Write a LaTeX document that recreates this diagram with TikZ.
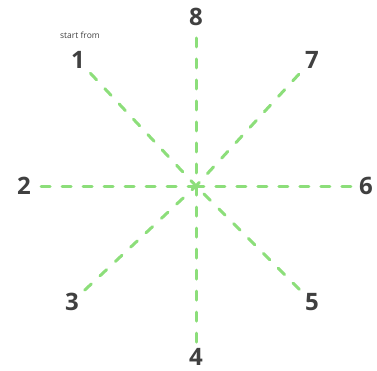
\documentclass[tikz,border=0pt]{standalone}
\usepackage{fontspec}
\setmainfont{Open Sans}
\usepackage{xcolor}
\definecolor{spokegreen}{RGB}{140,222,122}
\definecolor{labelgray}{RGB}{64,64,64}

\begin{document}
\begin{tikzpicture}[x=1pt,y=-1pt,
  num/.style={text=labelgray, font=\fontsize{24}{24}\selectfont\bfseries, inner sep=2pt},
  note/.style={text=labelgray, font=\fontsize{8.5}{9}\selectfont, inner sep=1pt},
  spoke/.style={spokegreen, line width=3pt, line cap=round, dash pattern=on 9pt off 12pt}]
\useasboundingbox (0,0) rectangle (377,370);

\coordinate (c) at (196,186);

\node[num] (n1) at (78,60) {1};
\node[num] (n2) at (24,186) {2};
\node[num] (n3) at (72,302) {3};
\node[num] (n4) at (196,357) {4};
\node[num] (n5) at (312,302) {5};
\node[num] (n6) at (366,186) {6};
\node[num] (n7) at (312,60) {7};
\node[num] (n8) at (196,17) {8};
\node[note] (start) at (80,35) {start from};

\draw[spoke, shorten <=5pt] (n1) -- (c);
\draw[spoke, shorten <=8pt] (n2) -- (c);
\draw[spoke, shorten <=5pt] (n3) -- (c);
\draw[spoke, shorten <=4pt] (n4) -- (c);
\draw[spoke, shorten <=5pt] (n5) -- (c);
\draw[spoke, shorten <=6pt] (n6) -- (c);
\draw[spoke, shorten <=6pt] (n7) -- (c);
\draw[spoke, shorten <=10pt] (n8) -- (c);
\end{tikzpicture}
\end{document}
